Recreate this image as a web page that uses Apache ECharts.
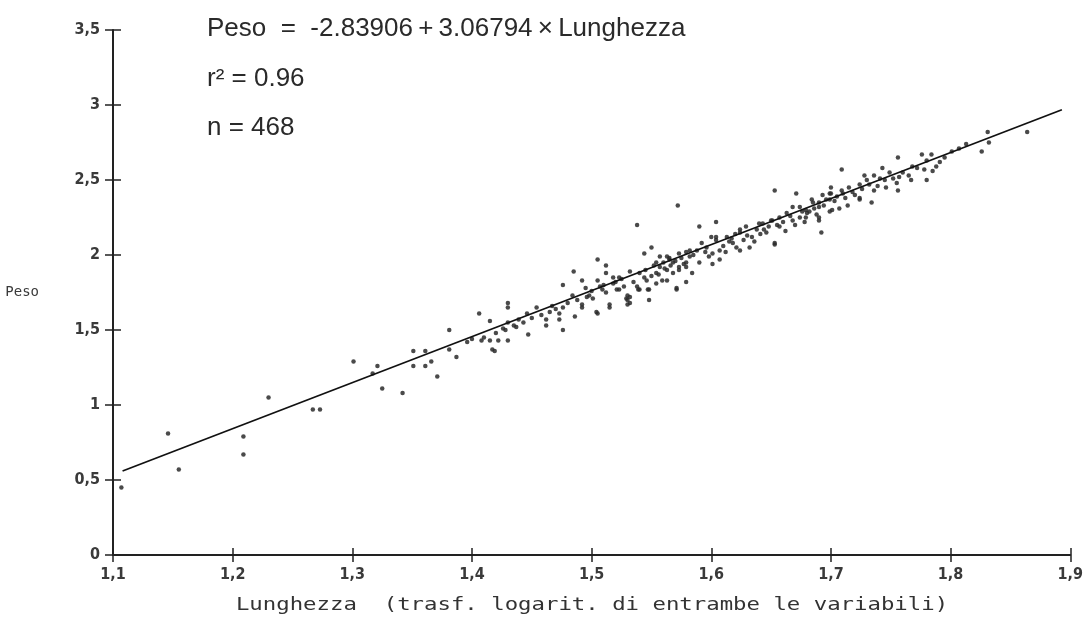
<!DOCTYPE html>
<html>
<head>
<meta charset="utf-8">
<script src="https://cdn.jsdelivr.net/npm/echarts@6/dist/echarts.min.js"></script>
<style>
html,body{margin:0;padding:0;background:#fff;}
#c{width:1086px;height:621px;}
</style>
</head>
<body>
<div id="c"></div>
<script>
// ---- data ----
const xTicks = [1.1, 1.2, 1.3, 1.4, 1.5, 1.6, 1.7, 1.8, 1.9];
const yTicks = [0, 0.5, 1, 1.5, 2, 2.5, 3, 3.5];
const intercetta = -2.83906;
const pendenza = 3.06794;
const r2 = 0.96;
const n = 468;
const lineaX = [1.108, 1.893];

const puntiBassi = [
[1.107,0.45],[1.146,0.81],[1.155,0.57],[1.209,0.79],[1.209,0.67],[1.230,1.05],[1.267,0.97],[1.273,0.97],
[1.301,1.29],[1.317,1.21],[1.321,1.26],[1.325,1.11],[1.342,1.08],[1.351,1.36],[1.351,1.26],[1.361,1.36],
[1.361,1.26],[1.366,1.29],[1.371,1.19],[1.381,1.50],[1.381,1.37],[1.387,1.32]
];
const punti14 = [
[1.396,1.42],[1.400,1.44],[1.406,1.61],[1.408,1.43],[1.410,1.45],[1.415,1.56],[1.415,1.43],[1.417,1.37],
[1.419,1.36],[1.420,1.48],[1.422,1.43],[1.426,1.51],[1.428,1.50],[1.430,1.68],[1.430,1.65],[1.430,1.55],
[1.430,1.43],[1.435,1.53],[1.437,1.52],[1.439,1.57],[1.443,1.55],[1.446,1.61],[1.447,1.47],[1.450,1.58],
[1.454,1.65],[1.458,1.60],[1.462,1.57],[1.462,1.53],[1.465,1.62],[1.467,1.66],[1.470,1.64],[1.473,1.61],
[1.473,1.57],[1.476,1.50],[1.476,1.80],[1.476,1.65],[1.480,1.68],[1.484,1.73],[1.486,1.59],[1.485,1.89],
[1.488,1.70],[1.492,1.83],[1.492,1.67],[1.492,1.65],[1.495,1.78],[1.496,1.72],[1.498,1.73]
];
const punti15 = [
[1.500,1.76],[1.501,1.71],[1.504,1.62],[1.505,1.97],[1.505,1.83],[1.505,1.61],[1.507,1.79],[1.509,1.77],
[1.510,1.80],[1.512,1.93],[1.512,1.88],[1.512,1.75],[1.515,1.65],[1.515,1.67],[1.518,1.85],[1.518,1.81],
[1.520,1.82],[1.521,1.77],[1.523,1.77],[1.523,1.85],[1.525,1.84],[1.527,1.79],[1.529,1.71],[1.530,1.73],
[1.530,1.70],[1.530,1.67],[1.532,1.89],[1.532,1.72],[1.532,1.68],[1.535,1.82],[1.538,2.20],[1.538,1.79],
[1.539,1.77],[1.540,1.88],[1.540,1.77],[1.544,2.01],[1.544,1.85],[1.545,1.90],[1.546,1.83],[1.547,1.77],
[1.548,1.77],[1.548,1.70],[1.550,2.05],[1.550,1.86],[1.552,1.93],[1.554,1.95],[1.554,1.88],[1.554,1.81],
[1.556,1.87],[1.557,1.92],[1.557,1.99],[1.559,1.83],[1.560,1.95],[1.561,1.91],[1.563,1.99],[1.563,1.83],
[1.563,1.90],[1.565,1.97],[1.565,1.98],[1.566,1.93],[1.568,1.88],[1.568,1.95],[1.570,1.96],[1.571,1.78],
[1.571,1.77],[1.572,2.33],[1.573,2.01],[1.573,1.92],[1.573,1.90],[1.575,1.98],[1.577,1.94],[1.579,1.82],
[1.579,2.02],[1.579,1.95],[1.579,1.92],[1.582,1.99],[1.582,2.03],[1.584,1.88],[1.585,2.00],[1.588,2.03],
[1.590,2.19],[1.590,1.95],[1.592,2.08],[1.595,2.02],[1.596,2.05],[1.598,1.99],[1.600,2.12]
];
const punti16 = [
[1.601,1.94],[1.601,2.01],[1.604,2.22],[1.604,2.10],[1.604,2.12],[1.607,2.03],[1.607,1.97],[1.610,2.06],
[1.612,2.02],[1.613,2.12],[1.615,2.09],[1.617,2.11],[1.618,2.08],[1.620,2.14],[1.621,2.05],[1.624,2.03],
[1.624,2.17],[1.624,2.15],[1.627,2.10],[1.629,2.19],[1.630,2.13],[1.632,2.05],[1.634,2.12],[1.636,2.09],
[1.638,2.17],[1.640,2.21],[1.641,2.14],[1.643,2.21],[1.644,2.17],[1.646,2.15],[1.648,2.19],[1.650,2.23],
[1.651,2.23],[1.653,2.43],[1.653,2.07],[1.653,2.08],[1.655,2.20],[1.657,2.19],[1.657,2.25],[1.660,2.22],
[1.662,2.16],[1.663,2.28],[1.666,2.26],[1.668,2.23],[1.668,2.32],[1.670,2.20],[1.671,2.41],[1.674,2.32],
[1.674,2.25],[1.676,2.29],[1.678,2.22],[1.679,2.30],[1.679,2.25],[1.680,2.28],[1.682,2.29],[1.684,2.37],
[1.685,2.35],[1.686,2.31],[1.688,2.27],[1.690,2.25],[1.690,2.32],[1.690,2.23],[1.690,2.35],[1.692,2.15],
[1.693,2.40],[1.694,2.33],[1.696,2.37],[1.699,2.37],[1.699,2.41],[1.699,2.29],[1.700,2.41],[1.700,2.45],
[1.701,2.30]
];
const punti17 = [
[1.703,2.36],[1.705,2.39],[1.707,2.31],[1.709,2.57],[1.709,2.43],[1.710,2.41],[1.712,2.38],[1.714,2.33],
[1.715,2.45],[1.718,2.42],[1.720,2.40],[1.724,2.47],[1.724,2.38],[1.724,2.37],[1.726,2.44],[1.728,2.53],
[1.730,2.50],[1.732,2.47],[1.734,2.35],[1.736,2.53],[1.736,2.43],[1.739,2.46],[1.741,2.51],[1.743,2.58],
[1.745,2.50],[1.746,2.45],[1.749,2.55],[1.752,2.51],[1.755,2.48],[1.756,2.65],[1.756,2.43],[1.757,2.52],
[1.760,2.55],[1.765,2.53],[1.767,2.50],[1.768,2.59],[1.772,2.58],[1.776,2.67],[1.778,2.57],[1.780,2.63],
[1.780,2.50],[1.784,2.67],[1.785,2.56],[1.788,2.59],[1.791,2.62],[1.795,2.65]
];
const punti18 = [
[1.801,2.69],[1.807,2.71],[1.813,2.74],[1.826,2.69],[1.831,2.82],[1.832,2.75],[1.864,2.82]
];

const punti = [].concat(puntiBassi, punti14, punti15, punti16, punti17, punti18);
const retta = lineaX.map(x => [x, intercetta + pendenza * x]);

const fmt = v => {
  const s = Math.abs(v - Math.round(v)) < 1e-9 ? String(Math.round(v)) : v.toFixed(1);
  return s.replace('.', ',');
};

const axisFont = {fontFamily: 'DejaVu Sans Condensed', fontWeight: 'bold', fontSize: 16, color: '#3a3a3a'};
const testoFont = '26px "Liberation Sans"';
const T = '\u2009';

const chart = echarts.init(document.getElementById('c'), null, {renderer: 'canvas'});
chart.setOption({
  backgroundColor: '#ffffff',
  animation: false,
  grid: {left: 113, right: 15, top: 30, bottom: 66, containLabel: false},
  xAxis: [{
    type: 'value', min: xTicks[0], max: xTicks[xTicks.length - 1], interval: 0.1,
    axisLine: {show: true, onZero: false, lineStyle: {color: '#222', width: 2}},
    axisTick: {show: true, inside: false, length: 7, lineStyle: {color: '#222', width: 1.5}},
    axisLabel: Object.assign({margin: 12, formatter: fmt}, axisFont),
    splitLine: {show: false}
  }, {
    type: 'value', min: xTicks[0], max: xTicks[xTicks.length - 1], interval: 0.1, position: 'bottom',
    axisLine: {show: false},
    axisTick: {show: true, inside: true, length: 7, lineStyle: {color: '#222', width: 1.5}},
    axisLabel: {show: false}, splitLine: {show: false}
  }],
  yAxis: [{
    type: 'value', min: yTicks[0], max: yTicks[yTicks.length - 1], interval: 0.5,
    axisLine: {show: true, onZero: false, lineStyle: {color: '#222', width: 2}},
    axisTick: {show: true, inside: false, length: 8, lineStyle: {color: '#222', width: 1.5}},
    axisLabel: Object.assign({margin: 13, formatter: fmt}, axisFont),
    splitLine: {show: false},
    name: 'Peso', nameLocation: 'middle', nameRotate: 0, nameGap: 74,
    nameTextStyle: {fontFamily: 'DejaVu Sans Mono', fontSize: 14, color: '#3a3a3a', align: 'right'}
  }, {
    type: 'value', min: yTicks[0], max: yTicks[yTicks.length - 1], interval: 0.5, position: 'left',
    axisLine: {show: false},
    axisTick: {show: true, inside: true, length: 8, lineStyle: {color: '#222', width: 1.5}},
    axisLabel: {show: false}, splitLine: {show: false}
  }],
  graphic: [
    {type: 'text', x: 592, y: 605, scaleX: 1.24,
     style: {text: 'Lunghezza  (trasf. logarit. di entrambe le variabili)', font: '18px "DejaVu Sans Mono"',
             fill: '#333', textAlign: 'center', textVerticalAlign: 'middle'}},
    {type: 'text', x: 207, y: 29,
     style: {text: 'Peso  =  ' + intercetta.toFixed(5) + T + '+' + T + pendenza.toFixed(5) + T + '×' + T + 'Lunghezza',
             font: testoFont, fill: '#2a2a2a', textVerticalAlign: 'middle'}},
    {type: 'text', x: 207, y: 79,
     style: {text: 'r² = ' + r2.toFixed(2), font: testoFont, fill: '#2a2a2a', textVerticalAlign: 'middle'}},
    {type: 'text', x: 207, y: 128,
     style: {text: 'n = ' + n, font: testoFont, fill: '#2a2a2a', textVerticalAlign: 'middle'}}
  ],
  series: [{
    type: 'scatter', xAxisIndex: 0, yAxisIndex: 0, data: punti,
    symbol: 'circle', symbolSize: 4.5,
    itemStyle: {color: '#2a2a2a', opacity: 0.85}
  }, {
    type: 'line', xAxisIndex: 0, yAxisIndex: 0, data: retta,
    showSymbol: false, symbol: 'none',
    lineStyle: {color: '#111', width: 1.8}
  }]
});
</script>
</body>
</html>
